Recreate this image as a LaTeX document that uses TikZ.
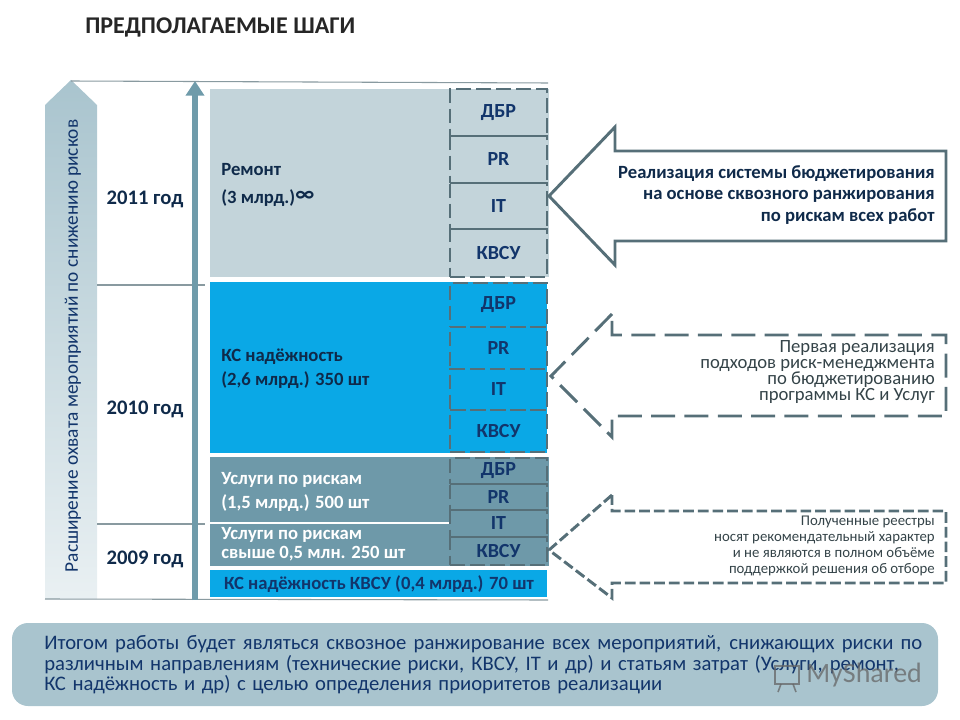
\documentclass[tikz,border=0pt]{standalone}
\usepackage{xcolor}
\usepackage{fontspec}
\setmainfont{Carlito}
\usepackage{tikz}
\usetikzlibrary{arrows.meta, positioning}

\begin{document}
\begin{tikzpicture}[x=0.75pt, y=-0.75pt, every node/.style={align=center, inner sep=0pt},
    riskbox/.style={draw=edgecol, line width=1.9pt, dash pattern=on 11pt off 4pt, minimum width=72.5pt, text=navy, font=\fontsize{15}{15}\selectfont\bfseries},
    yearlabel/.style={text=darknavy, font=\fontsize{15.5}{16}\selectfont\bfseries},
    blocklabel/.style={anchor=west, align=left, font=\fontsize{14}{14}\selectfont\bfseries},
    calltext/.style={anchor=east, align=right, text=edgecol!60!black}]
      \definecolor{navy}{HTML}{12356B} \definecolor{darknavy}{HTML}{0F2A4A}
      \definecolor{edgecol}{HTML}{566F78} \definecolor{paleblock}{HTML}{C3D4DA}
      \definecolor{brightblock}{HTML}{0AA8E6} \definecolor{greyblock}{HTML}{6E99A9}
      \definecolor{axiscol}{HTML}{6F9BAA} \definecolor{bandcol}{HTML}{A9C4CE}
      \useasboundingbox (0,0) rectangle (960,720);

      \node[anchor=west, text=black!85, font=\fontsize{18}{20}\selectfont\bfseries] (title) at (85,27) {ПРЕДПОЛАГАЕМЫЕ ШАГИ};

      % left band
      \shade[top color=bandcol, bottom color=bandcol!25] (45,105) -- (71,80) -- (97,105) -- (97,599) -- (45,599) -- cycle;
      \node[rotate=90, text=navy, font=\fontsize{14.5}{16}\selectfont] (band) at (73,346) {Расширение охвата мероприятий по снижению рисков};
      \draw[edgecol!70, line width=0.8pt] (71,81) -- (548,83);
      \draw[edgecol!70, line width=0.8pt] (45,599) -- (548,600);
      \draw[edgecol!70, line width=0.8pt] (97,285) -- (205,285);
      \draw[edgecol!70, line width=0.8pt] (97,524) -- (205,524);

      % blocks
      \fill[paleblock] (210,89) rectangle (549,277);
      \fill[brightblock] (210,282) rectangle (547,453);
      \fill[greyblock] (210,457) rectangle (549,566);
      \fill[brightblock] (210,570) rectangle (547,597);
      \draw[white, line width=0.8pt] (210,523) -- (450,523);

      % axis
      \coordinate (axisfoot) at (195,600);
      \coordinate (axishead) at (195,81);
      \draw[-{Triangle[width=13.5pt, length=11pt]}, axiscol, line width=5pt] (axisfoot) -- (axishead);

      \node[yearlabel] (y2011) at (145,199) {2011 год};
      \node[yearlabel] (y2010) at (145,409) {2010 год};
      \node[yearlabel] (y2009) at (145,559) {2009 год};

      \node[blocklabel, text=darknavy] (remont) at (221,170) {Ремонт};
      \node[blocklabel, text=darknavy] (remontsum) at (221,198) {(3 млрд.)\raisebox{1.5pt}{\fontsize{17}{17}\selectfont ∞}};
      \node[blocklabel, text=darknavy] (ksrel) at (221,357) {КС надёжность};
      \node[blocklabel, text=darknavy] (kssum) at (221,380) {(2,6 млрд.) 350 шт};
      \node[blocklabel, text=white] (usl) at (221,480) {Услуги по рискам};
      \node[blocklabel, text=white] (uslsum) at (221,503) {(1,5 млрд.) 500 шт};
      \node[blocklabel, text=white] (uslb) at (221,535) {Услуги  по рискам};
      \node[blocklabel, text=white] (uslbsum) at (221,554) {свыше 0,5 млн. 250 шт};
      \node[text=navy, font=\fontsize{14}{14}\selectfont\bfseries] (kskvsu) at (379,584) {КС надёжность КВСУ (0,4 млрд.) 70 шт};

      % risk boxes
      \foreach \y/\h/\t/\i in {112.5/47/ДБР/a1, 159.5/47/PR/a2, 206/46/IT/a3, 253/48/КВСУ/a4,
          305/44/ДБР/b1, 348/42/PR/b2, 389.5/41/IT/b3, 431/42/КВСУ/b4,
          471/26/ДБР/c1, 497/26/PR/c2, 523.5/27/IT/c3, 551/28/КВСУ/c4} {
        \node[riskbox, minimum height=\h*0.75pt] (\i) at (498.5,\y) {\t};
      }

      % callouts
      \draw[edgecol, line width=2.2pt, fill=white] (549,196) -- (615,127) -- (615,151) -- (946,151) -- (946,241) -- (615,241) -- (615,265) -- cycle;
      \node[calltext, text=darknavy, font=\fontsize{14}{16.2}\selectfont\bfseries] (calla) at (935,195) {Реализация системы бюджетирования\\на основе сквозного  ранжирования\\по рискам всех работ};

      \draw[edgecol, line width=2.2pt, dash pattern=on 18pt off 7pt] (612,314) -- (551,376) -- (612,437) -- (612,416) -- (946,416) -- (946,335) -- (612,335) -- cycle;
      \node[calltext, font=\fontsize{14}{12}\selectfont] (callb) at (935,372) {Первая реализация\\подходов риск-менеджмента\\по бюджетированию\\программы КС и Услуг};

      \draw[edgecol, line width=2.2pt, dash pattern=on 8pt off 3pt] (612,495) -- (549,550) -- (612,598) -- (612,583) -- (946,583) -- (946,511) -- (612,511) -- cycle;
      \node[calltext, font=\fontsize{11.1}{12}\selectfont] (callc) at (935,546) {Полученные реестры\\носят рекомендательный характер\\и не являются в полном объёме\\поддержкой решения об отборе};

      % summary
      \fill[bandcol, rounded corners=12pt] (12,623) rectangle (938,706);
      \node[anchor=west, align=left, text=navy, font=\fontsize{15.5}{15.4}\selectfont] (summary) at (44,665) {\makebox[658.5pt][s]{Итогом работы будет являться сквозное ранжирование  всех мероприятий,  снижающих риски по}\\\makebox[641pt][s]{различным направлениям  (технические  риски, КВСУ, IT и др) и статьям затрат (Услуги, ремонт,}\\\makebox[463.5pt][s]{КС надёжность и др) с целью определения  приоритетов  реализации}};
      \node[anchor=west, text=black!60, opacity=0.75, font=\fontsize{21}{22}\selectfont] (mark) at (806,675) {MyShared};
      \draw[black!60, opacity=0.75, line width=1.2pt] (775,666) rectangle (799,684);
      \draw[black!60, opacity=0.75, line width=1.2pt] (781,684) -- (778,692) (793,684) -- (796,692);
\end{tikzpicture}
\end{document}
